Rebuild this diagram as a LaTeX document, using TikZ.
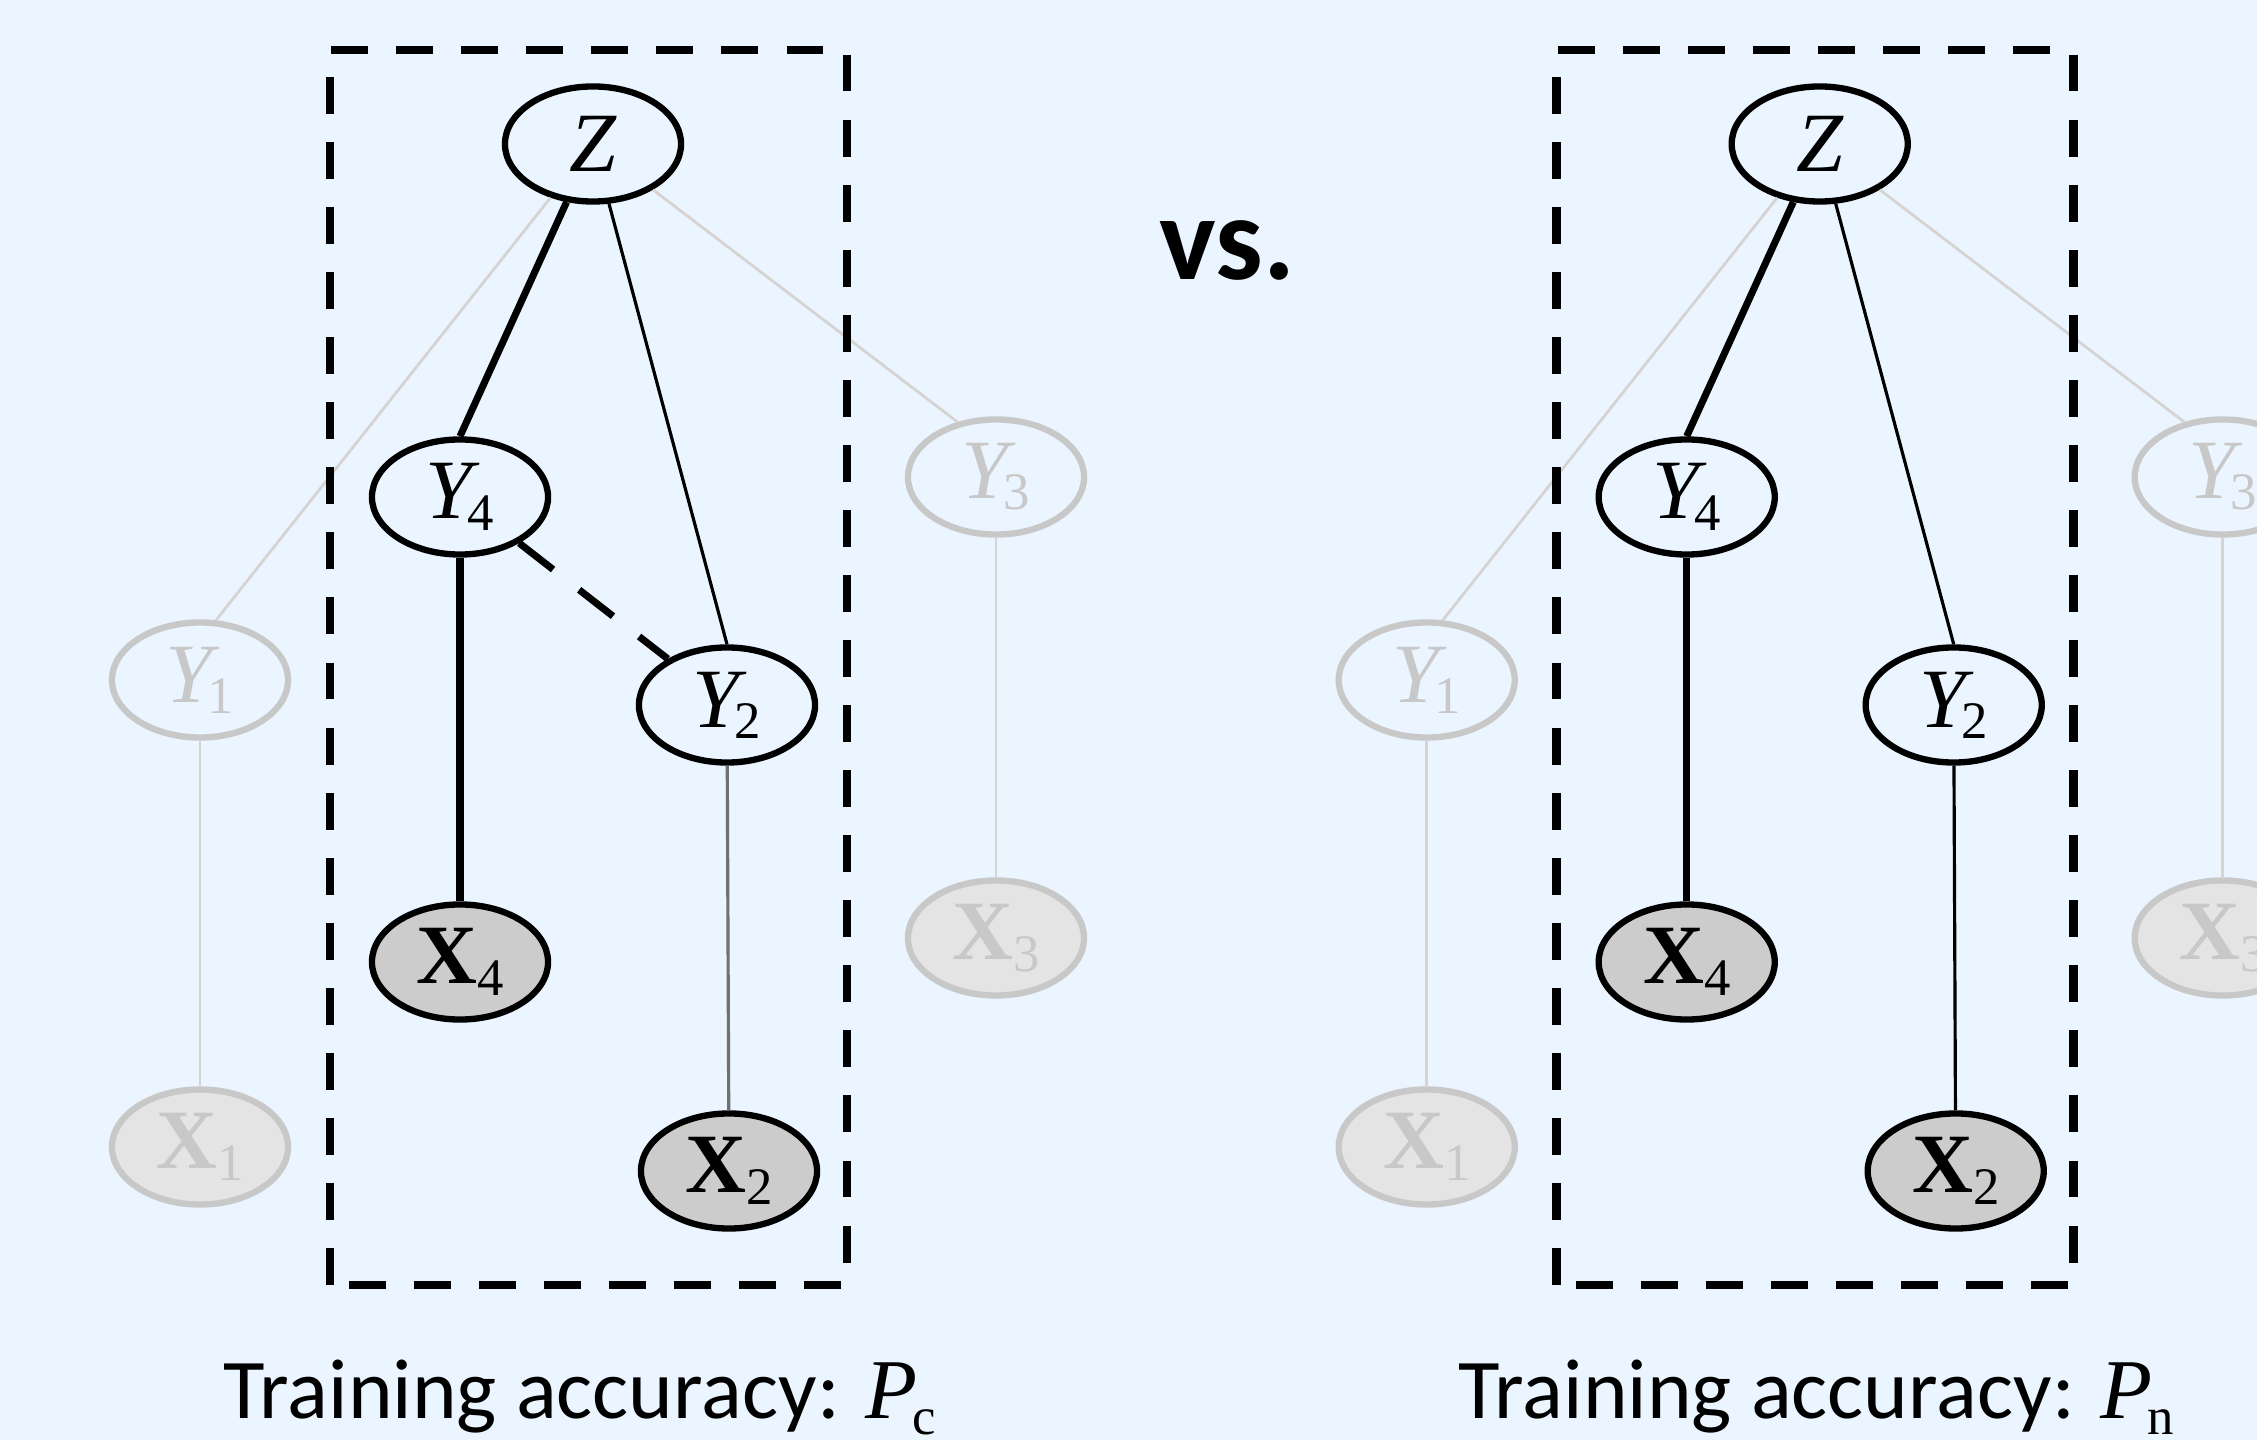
\documentclass[tikz,border=0pt]{standalone}
\usepackage{fontspec}
\setmainfont{Carlito}
\newfontfamily\tms{Liberation Serif}
\usetikzlibrary{shapes.geometric}
\definecolor{bgc}{RGB}{235,245,255}
\definecolor{faint}{RGB}{200,200,200}
\definecolor{faintfill}{RGB}{228,228,228}
\definecolor{faintedge}{RGB}{214,212,210}
\definecolor{obsfill}{RGB}{204,204,204}
\definecolor{midgray}{RGB}{112,112,112}
\newcommand{\ylab}[1]{{\tms\fontsize{24}{24}\selectfont\itshape Y\kern-1.5pt\raisebox{-3.2pt}{\upshape\fontsize{15}{15}\selectfont #1}}}
\newcommand{\xlab}[1]{{\tms\fontsize{24}{24}\selectfont\bfseries X\raisebox{-3.4pt}{\mdseries\fontsize{15}{15}\selectfont #1}}}
\newcommand{\zlab}{{\tms\fontsize{24}{24}\selectfont\itshape Z}}
\newcommand{\accsub}[1]{{\tms\itshape P}\kern-1.5pt\raisebox{-4.6pt}{\tms\fontsize{15}{15}\selectfont #1}}
\tikzset{
  gnode/.style={ellipse, draw=black, line width=1.8pt, minimum width=1.76cm, minimum height=1.15cm, inner sep=0pt, fill=bgc},
  obs/.style={gnode, fill=obsfill},
  fadednode/.style={gnode, draw=faint, text=faint},
  fadedobs/.style={fadednode, fill=faintfill},
  strong/.style={line width=2pt},
  weak/.style={line width=0.9pt},
  faded/.style={line width=0.8pt, draw=faintedge},
  grayedge/.style={line width=0.9pt, draw=midgray},
  dashlink/.style={line width=2pt, dash pattern=on 12.2pt off 9.4pt},
  boxline/.style={line width=2.5pt, dash pattern=on 10.5pt off 8pt},
  caption/.style={anchor=base west, inner sep=0pt, font=\fontsize{24.2}{30}\selectfont}
}
\begin{document}
\begin{tikzpicture}[x=0.01cm, y=-0.01cm]
\useasboundingbox (0,0) rectangle (2257,1440);
\fill[bgc] (0,0) rectangle (2257,1440);
% ---------- left panel ----------
\node[gnode] (LZ) at (593,144) {\zlab};
\node[gnode] (LY4) at (460,497) {\ylab{4}};
\node[gnode] (LY2) at (727,705) {\ylab{2}};
\node[obs] (LX4) at (460,962) {\xlab{4}};
\node[obs] (LX2) at (729,1171) {\xlab{2}};
\node[fadednode] (LY1) at (200,680) {\ylab{1}};
\node[fadedobs] (LX1) at (200,1147) {\xlab{1}};
\node[fadednode] (LY3) at (996,477) {\ylab{3}};
\node[fadedobs] (LX3) at (996,938) {\xlab{3}};
\draw[faded] (LZ) -- (LY1.75);
\draw[faded] (LZ) -- (LY3.125);
\draw[faded] (LY1) -- (LX1);
\draw[faded] (LY3) -- (LX3);
\draw[boxline] (330,1285) -- (330,50) -- (847,50) -- (847,1285) -- cycle;
\draw[strong] (LZ) -- (LY4.north);
\draw[weak] (LZ) -- (LY2.north);
\draw[strong] (LY4) -- (LX4);
\draw[grayedge] (LY2) -- (LX2);
\draw[dashlink] (LY4) -- (LY2);
% ---------- right panel ----------
\begin{scope}[xshift=12.26cm]
\node[gnode] (RZ) at (593,144) {\zlab};
\node[gnode] (RY4) at (460,497) {\ylab{4}};
\node[gnode] (RY2) at (727,705) {\ylab{2}};
\node[obs] (RX4) at (460,962) {\xlab{4}};
\node[obs] (RX2) at (729,1171) {\xlab{2}};
\node[fadednode] (RY1) at (200,680) {\ylab{1}};
\node[fadedobs] (RX1) at (200,1147) {\xlab{1}};
\node[fadednode] (RY3) at (996,477) {\ylab{3}};
\node[fadedobs] (RX3) at (996,938) {\xlab{3}};
\draw[faded] (RZ) -- (RY1.75);
\draw[faded] (RZ) -- (RY3.125);
\draw[faded] (RY1) -- (RX1);
\draw[faded] (RY3) -- (RX3);
\draw[boxline] (330,1285) -- (330,50) -- (847,50) -- (847,1285) -- cycle;
\draw[strong] (RZ) -- (RY4.north);
\draw[weak] (RZ) -- (RY2.north);
\draw[strong] (RY4) -- (RX4);
\draw[weak] (RY2) -- (RX2);
\end{scope}
% ---------- texts ----------
\node[anchor=base, inner sep=0pt, font=\bfseries\fontsize{34}{40}\selectfont] (vs) at (1227,280) {vs.};
\node[caption] (capL) at (223,1418) {Training accuracy: \accsub{c}};
\node[caption] (capR) at (1458,1418) {Training accuracy: \accsub{n}};
\end{tikzpicture}
\end{document}
